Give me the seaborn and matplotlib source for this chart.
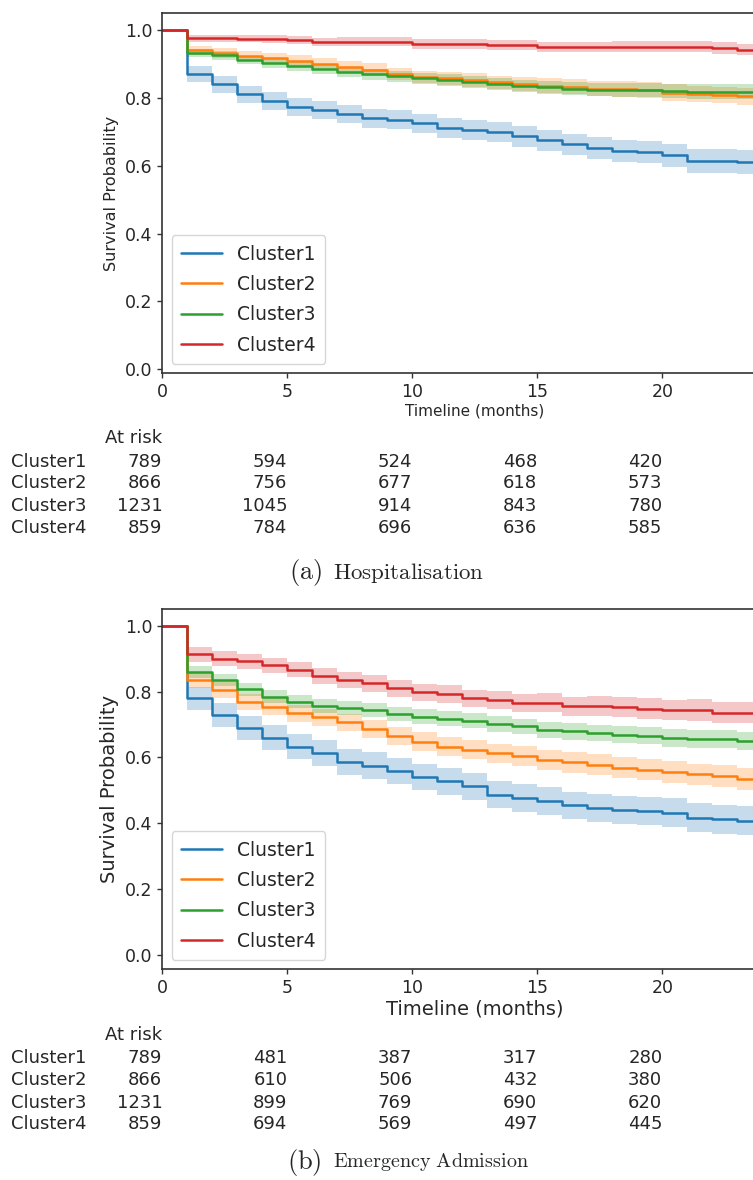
"""Kaplan-Meier style survival curves per cluster with at-risk tables."""
import matplotlib.pyplot as plt
import matplotlib.transforms as mtransforms
import numpy as np
import pandas as pd
import seaborn as sns

# Data
MONTHS = list(range(25))
CLUSTERS = ["Cluster1", "Cluster2", "Cluster3", "Cluster4"]

# (a) Hospitalisation: survival held from month t to t+1
HOSP_C1 = [1.0, 0.870, 0.840, 0.811, 0.791, 0.773, 0.764, 0.753, 0.741, 0.736, 0.725, 0.712, 0.706,
           0.699, 0.687, 0.675, 0.663, 0.653, 0.643, 0.640, 0.631, 0.615, 0.615, 0.611, 0.609]
HOSP_C2 = [1.0, 0.941, 0.934, 0.924, 0.917, 0.910, 0.901, 0.893, 0.884, 0.870, 0.862, 0.858, 0.853,
           0.846, 0.842, 0.837, 0.833, 0.828, 0.826, 0.824, 0.816, 0.813, 0.809, 0.805, 0.803]
HOSP_C3 = [1.0, 0.934, 0.926, 0.912, 0.903, 0.894, 0.885, 0.876, 0.870, 0.864, 0.858, 0.853, 0.848,
           0.841, 0.836, 0.832, 0.828, 0.825, 0.823, 0.823, 0.821, 0.819, 0.819, 0.818, 0.817]
HOSP_C4 = [1.0, 0.976, 0.976, 0.975, 0.975, 0.970, 0.966, 0.966, 0.966, 0.966, 0.960, 0.960, 0.960,
           0.956, 0.956, 0.951, 0.951, 0.951, 0.951, 0.951, 0.951, 0.951, 0.948, 0.943, 0.943]

# confidence band half widths
HOSP_CI1 = [0.0, 0.024, 0.025, 0.025, 0.026, 0.026, 0.027, 0.027, 0.028, 0.028, 0.029, 0.029, 0.030,
            0.030, 0.031, 0.031, 0.032, 0.032, 0.033, 0.033, 0.034, 0.035, 0.035, 0.036, 0.037]
HOSP_CI2 = [0.0, 0.014, 0.015, 0.015, 0.016, 0.016, 0.017, 0.017, 0.018, 0.018, 0.019, 0.019, 0.020,
            0.020, 0.021, 0.021, 0.022, 0.022, 0.023, 0.023, 0.024, 0.024, 0.025, 0.025, 0.026]
HOSP_CI3 = [0.0, 0.012, 0.013, 0.013, 0.014, 0.014, 0.015, 0.015, 0.016, 0.016, 0.017, 0.017, 0.018,
            0.018, 0.018, 0.019, 0.019, 0.020, 0.020, 0.020, 0.021, 0.021, 0.021, 0.022, 0.022]
HOSP_CI4 = [0.0, 0.011, 0.011, 0.011, 0.012, 0.012, 0.012, 0.013, 0.013, 0.013, 0.014, 0.014, 0.014,
            0.014, 0.015, 0.015, 0.015, 0.015, 0.016, 0.016, 0.016, 0.016, 0.017, 0.017, 0.017]

# (b) Emergency Admission
EMER_C1 = [1.0, 0.779, 0.729, 0.689, 0.659, 0.633, 0.613, 0.585, 0.575, 0.558, 0.541, 0.527, 0.512,
           0.487, 0.477, 0.467, 0.454, 0.447, 0.440, 0.437, 0.432, 0.417, 0.412, 0.408, 0.406]
EMER_C2 = [1.0, 0.835, 0.805, 0.769, 0.754, 0.734, 0.722, 0.706, 0.686, 0.666, 0.648, 0.633, 0.623,
           0.613, 0.605, 0.593, 0.585, 0.578, 0.568, 0.563, 0.555, 0.548, 0.543, 0.535, 0.530]
EMER_C3 = [1.0, 0.860, 0.835, 0.807, 0.784, 0.769, 0.756, 0.749, 0.744, 0.732, 0.724, 0.717, 0.712,
           0.701, 0.694, 0.684, 0.679, 0.674, 0.669, 0.666, 0.659, 0.656, 0.656, 0.649, 0.647]
EMER_C4 = [1.0, 0.913, 0.900, 0.892, 0.880, 0.867, 0.848, 0.835, 0.825, 0.810, 0.798, 0.792, 0.779,
           0.774, 0.766, 0.766, 0.756, 0.756, 0.752, 0.748, 0.744, 0.744, 0.736, 0.736, 0.736]

EMER_CI1 = [0.0, 0.036, 0.037, 0.037, 0.038, 0.038, 0.039, 0.039, 0.040, 0.040, 0.040, 0.041, 0.041,
            0.041, 0.042, 0.042, 0.042, 0.043, 0.043, 0.043, 0.044, 0.044, 0.044, 0.045, 0.045]
EMER_CI2 = [0.0, 0.023, 0.024, 0.024, 0.025, 0.025, 0.026, 0.026, 0.027, 0.027, 0.028, 0.028, 0.029,
            0.029, 0.030, 0.030, 0.031, 0.031, 0.032, 0.032, 0.033, 0.033, 0.034, 0.034, 0.035]
EMER_CI3 = [0.0, 0.018, 0.019, 0.019, 0.020, 0.020, 0.021, 0.021, 0.022, 0.022, 0.023, 0.023, 0.023,
            0.024, 0.024, 0.025, 0.025, 0.025, 0.026, 0.026, 0.027, 0.027, 0.027, 0.028, 0.028]
EMER_CI4 = [0.0, 0.022, 0.022, 0.023, 0.023, 0.024, 0.024, 0.025, 0.025, 0.026, 0.026, 0.027, 0.027,
            0.028, 0.028, 0.029, 0.029, 0.030, 0.030, 0.031, 0.031, 0.032, 0.032, 0.033, 0.033]

# Numbers at risk at months 0, 5, 10, 15, 20
RISK_TICKS = [0, 5, 10, 15, 20]
HOSP_RISK1 = [789, 594, 524, 468, 420]
HOSP_RISK2 = [866, 756, 677, 618, 573]
HOSP_RISK3 = [1231, 1045, 914, 843, 780]
HOSP_RISK4 = [859, 784, 696, 636, 585]
EMER_RISK1 = [789, 481, 387, 317, 280]
EMER_RISK2 = [866, 610, 506, 432, 380]
EMER_RISK3 = [1231, 899, 769, 690, 620]
EMER_RISK4 = [859, 694, 569, 497, 445]

W, H = 753, 1180


def make_frame(curves, cis):
    """Long-form frame for seaborn."""
    rows = []
    for name, surv, ci in zip(CLUSTERS, curves, cis):
        for m, s, c in zip(MONTHS, surv, ci):
            rows.append({"month": m, "surv": s, "ci": c, "cluster": name})
    return pd.DataFrame(rows)


def draw_panel(ax, df, risk, y_lo, xlabel_size, ylabel_size, risk_rows_y, caption_y, letter, caption,
               caption_size):
    palette = sns.color_palette("tab10", 4)

    # Confidence bands
    for color, (name, grp) in zip(palette, df.groupby("cluster", sort=False)):
        ax.fill_between(grp["month"], grp["surv"] - grp["ci"], np.minimum(grp["surv"] + grp["ci"], 1.0),
                        step="post", color=color, alpha=0.25, linewidth=0)

    sns.lineplot(data=df, x="month", y="surv", hue="cluster", palette=palette,
                 drawstyle="steps-post", linewidth=1.8, ax=ax, estimator=None)

    ax.set_xlim(0, 25)
    ax.set_ylim(y_lo, 1.05)
    ax.set_xticks(RISK_TICKS)
    ax.set_yticks([0.0, 0.2, 0.4, 0.6, 0.8, 1.0])
    ax.set_yticklabels(["0.0", "0.2", "0.4", "0.6", "0.8", "1.0"])
    ax.tick_params(labelsize=12.5, length=3.5, width=1, color="#333333")
    ax.set_xlabel("Timeline (months)", fontsize=xlabel_size, labelpad=2)
    ax.set_ylabel("Survival Probability", fontsize=ylabel_size)

    old = ax.get_legend()
    handles = old.legend_handles
    labels = [t.get_text() for t in old.texts]
    ax.legend(handles, labels, loc="lower left", fontsize=13.5, handlelength=2.2,
              frameon=True, borderpad=0.5, labelspacing=0.6, bbox_to_anchor=(0.0, 0.0))

    # At-risk table
    fig = ax.figure
    trans = mtransforms.blended_transform_factory(ax.transData, fig.transFigure)
    fig.text(0.0, 1 - risk_rows_y[0] / H, "At risk", transform=trans, ha="right", va="center", fontsize=13)
    for name, counts, yy in zip(CLUSTERS, risk, risk_rows_y[1:]):
        fig.text(10.6 / W, 1 - yy / H, name, ha="left", va="center", fontsize=13)
        for t, n in zip(RISK_TICKS, counts):
            fig.text(t, 1 - yy / H, str(n), transform=trans, ha="right", va="center", fontsize=13)

    # Caption
    fig.text(322 / W, 1 - caption_y / H, r"$\mathrm{(%s)}$" % letter, ha="right", va="center", fontsize=19)
    fig.text(333 / W, 1 - caption_y / H, r"$\mathrm{%s}$" % caption.replace(" ", r"\ "),
             ha="left", va="center", fontsize=caption_size)


sns.set_style("ticks")
plt.rcParams["font.family"] = ["DejaVu Sans"]
plt.rcParams["mathtext.fontset"] = "cm"
plt.rcParams["axes.edgecolor"] = "#333333"
plt.rcParams["axes.linewidth"] = 1.2

fig = plt.figure(figsize=(W / 100, H / 100), dpi=100)
ax_a = fig.add_axes([162.3 / W, (H - 373.3) / H, 625 / W, 360 / H])
ax_b = fig.add_axes([162.3 / W, (H - 969.3) / H, 625 / W, 360 / H])

hosp = make_frame([HOSP_C1, HOSP_C2, HOSP_C3, HOSP_C4], [HOSP_CI1, HOSP_CI2, HOSP_CI3, HOSP_CI4])
emer = make_frame([EMER_C1, EMER_C2, EMER_C3, EMER_C4], [EMER_CI1, EMER_CI2, EMER_CI3, EMER_CI4])

draw_panel(ax_a, hosp, [HOSP_RISK1, HOSP_RISK2, HOSP_RISK3, HOSP_RISK4], -0.012, 11, 11.5,
           [438, 461.7, 483.3, 506, 528.3], 573, "a", "Hospitalisation", 16.5)
draw_panel(ax_b, emer, [EMER_RISK1, EMER_RISK2, EMER_RISK3, EMER_RISK4], -0.044, 14, 14,
           [1035, 1058, 1080, 1102.5, 1124], 1162, "b", "Emergency Admission", 14.5)

fig.savefig("out.png", dpi=100)
plt.close(fig)
